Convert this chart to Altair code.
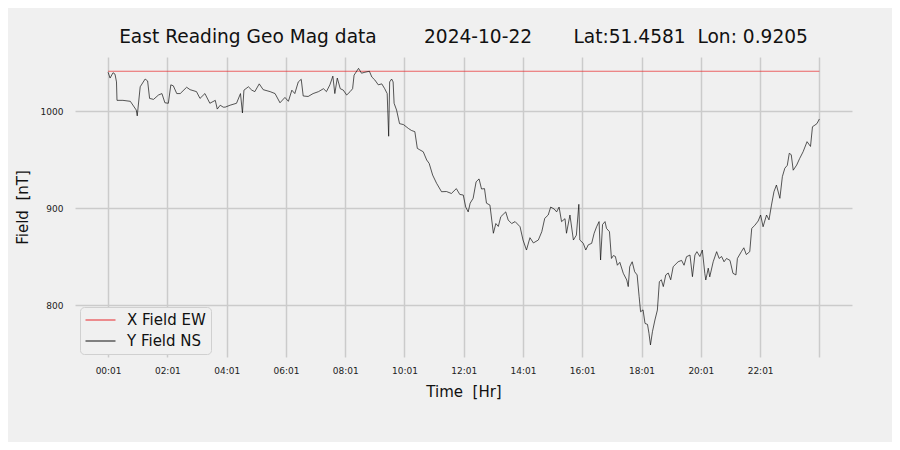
import altair as alt
import pandas as pd

# minutes after 00:01 and Y field (NS) values in nT
y_minutes = [0, 4, 10, 14, 17, 18, 30, 45, 57, 59, 65, 75, 80, 84, 92, 102, 109, 115, 122, 127, 132, 139, 146, 159, 166, 179, 186, 196, 206, 217, 221, 227, 233,
             237, 247, 260, 268, 272, 275, 284, 291, 297, 306, 314, 328, 338, 348, 358, 365, 372, 378, 385, 391, 395, 405, 415, 426, 436, 442, 449, 455, 459, 464, 470,
             476, 483, 490, 495, 498, 507, 513, 520, 529, 534, 540, 547, 554, 560, 565, 568, 570, 574, 577, 579, 584, 590, 598, 608, 614, 621, 626, 631, 638, 645, 650, 657, 665, 675, 685, 695, 705,
             712, 719, 724, 729, 733, 739, 745, 751, 756, 762, 766, 773, 780, 785, 790, 795, 805, 810, 817, 824, 834, 840, 847, 854, 861, 871, 878, 884, 891, 896, 903, 908, 913, 918, 925, 928, 935, 942, 948, 953, 955, 962,
             967, 972, 979, 984, 989, 994, 997, 1001, 1006, 1009, 1015, 1019, 1023, 1027, 1031, 1036, 1043, 1050, 1053, 1056, 1061, 1066, 1071, 1075, 1078, 1083, 1087, 1092, 1095, 1098, 1102, 1107, 1112, 1116, 1120, 1124, 1129, 1134, 1139, 1144, 1154, 1161, 1166, 1171, 1178, 1183, 1188, 1192, 1198, 1203,
             1208, 1210, 1215, 1218, 1225, 1232, 1237, 1242, 1247, 1252, 1259, 1265, 1271, 1274, 1282, 1287, 1292, 1299, 1303, 1309, 1316, 1321, 1326, 1333, 1338, 1343, 1348, 1353, 1360, 1365, 1370, 1375, 1379, 1383, 1387, 1394, 1400, 1407, 1415, 1422, 1426, 1431, 1435, 1440]
y_values = [1040, 1034, 1039.5, 1038, 1030, 1011, 1011, 1010, 1001, 995, 1025, 1033, 1031, 1013, 1012, 1016.5, 1018, 1008.5, 1008, 1027, 1026, 1018, 1018, 1024.5, 1022, 1020, 1013, 1018, 1008, 1011, 1002, 1006, 1004,
            1004, 1006, 1008, 1018, 998, 1021.5, 1025, 1021.5, 1020, 1028, 1022, 1020, 1018, 1008.5, 1014, 1010, 1021.5, 1018, 1030, 1032.7, 1015.5, 1015, 1018, 1020, 1023, 1020, 1027, 1036, 1018, 1034, 1023,
            1021.6, 1016.5, 1020, 1023, 1037, 1044, 1039, 1040, 1041, 1035, 1032, 1027, 1028, 1023, 1018, 974, 1030, 1033, 1030, 1008, 1001, 987, 986, 982, 980, 978.7, 961.5, 960, 958, 949.5, 946, 934, 925.5, 916.8, 917, 915, 920,
            914, 913.4, 901, 896, 905, 910, 927, 930, 919.6, 920, 905, 903, 874, 884, 881, 891, 896, 887.6, 884, 886, 880.7, 867, 856.7, 869.4, 864, 867, 875.6, 889.4, 892.8, 901, 899, 896, 901, 886, 889, 874, 892.8, 867, 872, 903.8, 867, 863.6,
            856.7, 862, 863.6, 874, 880.7, 886, 846.4, 883, 886, 879, 875.6, 848, 851, 850, 841, 844, 832.7, 825.8, 819, 839.5, 844.6, 834.3, 831, 809, 793, 795, 781, 780, 770.8, 758.8, 772.5, 784.5, 794.8, 824, 826, 819, 831, 833, 826, 839.5, 844.6, 846, 841, 849.8, 851.5, 829.2, 851.5, 855, 850, 856.7,
            832.7, 825.8, 838, 829, 844.6, 855, 848, 850, 844.6, 848, 846, 832.7, 831, 848, 855, 859, 852, 855, 879, 882, 886.6, 892.8, 880.7, 892.8, 887.8, 903, 916.8, 923.7, 910, 932.3, 941, 944, 956.4, 955, 939, 944.3, 951, 958, 968.4, 963.5, 983.8, 985.5, 987, 991.8]

x_minutes = [0, 1440]
x_values = [1041, 1041]

series_names = ["X Field EW", "Y Field NS"]
series_colors = ["#e8262a", "#111111"]
tick_minutes = [0, 120, 240, 360, 480, 600, 720, 840, 960, 1080, 1200, 1320, 1440]

df = pd.concat([
    pd.DataFrame({"t": x_minutes, "v": x_values, "s": series_names[0]}),
    pd.DataFrame({"t": y_minutes, "v": y_values, "s": series_names[1]}),
])

NB = "\u00a0"
title_text = ("East Reading Geo Mag data" + NB * 8 + "2024-10-22" + NB * 7 +
              "Lat:51.4581" + NB * 2 + "Lon:" + NB + "0.9205")

font = "DejaVu Sans"

chart = alt.Chart(df).mark_line(strokeWidth=0.7).encode(
    x=alt.X("t:Q",
            scale=alt.Scale(domain=[-67, 1506], nice=False, zero=False),
            axis=alt.Axis(values=tick_minutes,
                          labelExpr="datum.value < 1440 ? format(datum.value/60, '02d') + ':01' : ''",
                          title="Time" + NB + " [Hr]")),
    y=alt.Y("v:Q",
            scale=alt.Scale(domain=[746.4, 1055.7], nice=False, zero=False),
            axis=alt.Axis(values=[800, 900, 1000], format="d", title="Field" + NB + " [nT]")),
    color=alt.Color("s:N",
                    scale=alt.Scale(domain=series_names, range=series_colors),
                    legend=alt.Legend(title=None, orient="none", legendX=5, legendY=250,
                                      symbolType="M-1,0L3,0", symbolSize=225, symbolStrokeWidth=1,
                                      labelFontSize=15, labelFont=font, labelColor="#111",
                                      strokeColor="#d0d0d0", fillColor="#f0f0f0", cornerRadius=4,
                                      padding=5, rowPadding=5, labelOffset=26, offset=0)),
    detail="s:N",
).properties(
    width=777, height=300,
    title=alt.TitleParams(title_text, fontSize=18.6, fontWeight="normal", font=font,
                          color="#111", anchor="middle", offset=10),
    autosize=alt.AutoSizeParams(type="none"),
    padding={"left": 67, "top": 49, "right": 40, "bottom": 85},
    background="#f0f0f0",
).configure_view(stroke=None).configure_axis(
    grid=True, gridColor="#cbcbcb", gridWidth=1.5, domain=False, ticks=False,
    labelFont=font, labelFontSize=9, labelColor="#222",
    titleFont=font, titleFontSize=15, titleFontWeight="normal", titleColor="#111",
).configure_axisX(labelPadding=9, titlePadding=9).configure_axisY(labelPadding=12, titlePadding=10)

chart.save("out.html", embed_options={"renderer": "svg", "actions": False})
